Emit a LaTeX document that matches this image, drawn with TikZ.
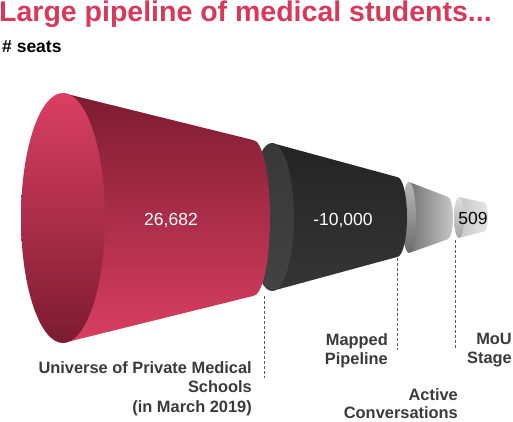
\documentclass[tikz,border=0pt]{standalone}
\usepackage{fontspec}
\setmainfont{Liberation Sans}
\definecolor{titlered}{HTML}{D6395B}
\definecolor{redhi}{HTML}{DA3F62}
\definecolor{redlo}{HTML}{7C1C31}
\definecolor{labelgrey}{HTML}{3A3A3A}
\tikzset{
  lbl/.style={font=\fontsize{16.4}{19.5}\selectfont\bfseries, text=labelgrey, align=right, inner sep=0pt, anchor=north east},
  num/.style={font=\fontsize{17.5}{20}\selectfont, inner sep=0pt, anchor=base},
  guide/.style={draw=black!65, dash pattern=on 3pt off 2pt, line width=0.7pt}
}
\begin{document}
\begin{tikzpicture}[x=1pt,y=-1pt]
  \useasboundingbox (0,0) rectangle (513,421);
  \node[font=\fontsize{28.5}{32}\selectfont\bfseries, text=titlered, inner sep=0pt, anchor=base west] (title) at (-1,21.5) {Large pipeline of medical students...};
  \node[font=\fontsize{17.5}{20}\selectfont\bfseries, inner sep=0pt, anchor=base west] (seats) at (2,52) {\# seats};
  % MoU stage
  \shade[left color=black!22, right color=black!10] (459,197) -- (484,202.5) arc(-90:90:4 and 14.5) -- (459,238) -- cycle;
  \shade[top color=black!12, bottom color=black!35] (459,217.5) ellipse (5 and 20.5);
  % active conversations
  \shade[left color=black!55, right color=black!22] (409,182) -- (447,196.5) arc(-90:90:6 and 21.5) -- (409,253) -- cycle;
  \shade[top color=black!28, bottom color=black!58] (409,217.5) ellipse (7 and 35.5);
  % mapped pipeline
  \shade[top color=black!86, bottom color=black!79] (272,143) -- (397,177) arc(-90:90:10 and 40) -- (272,291) -- cycle;
  \shade[top color=black!78, bottom color=black!74] (272,217) ellipse (22 and 74);
  % universe
  \shade[top color=redlo, bottom color=redhi] (63,93) -- (253,140) arc(-90:90:17 and 78) -- (63,343) -- cycle;
  \shade[top color=redhi, middle color=redhi!85!redlo, bottom color=redlo] (63,218) ellipse (42 and 125);
  \node[num, text=white] (n1) at (171,225.5) {26,682};
  \node[num, text=white] (n2) at (343,225) {-10,000};
  \node[num] (n4) at (473,224) {509};
  \coordinate (u1) at (264,296);
  \coordinate (u2) at (264,378);
  \coordinate (m1) at (397,258);
  \coordinate (m2) at (397,350);
  \coordinate (a1) at (455,240);
  \coordinate (a2) at (455,350);
  \draw[guide] (u1) -- (u2);
  \draw[guide] (m1) -- (m2);
  \draw[guide] (a1) -- (a2);
  \node[lbl] (universe) at (252,361) {Universe of Private Medical\\Schools\\(in March 2019)};
  \node[lbl] (mapped) at (388,333) {Mapped\\Pipeline};
  \node[lbl, font=\fontsize{16.4}{18.5}\selectfont\bfseries] (active) at (458,388) {Active\\Conversations};
  \node[lbl] (mou) at (512,333) {MoU\\Stage};
\end{tikzpicture}
\end{document}
